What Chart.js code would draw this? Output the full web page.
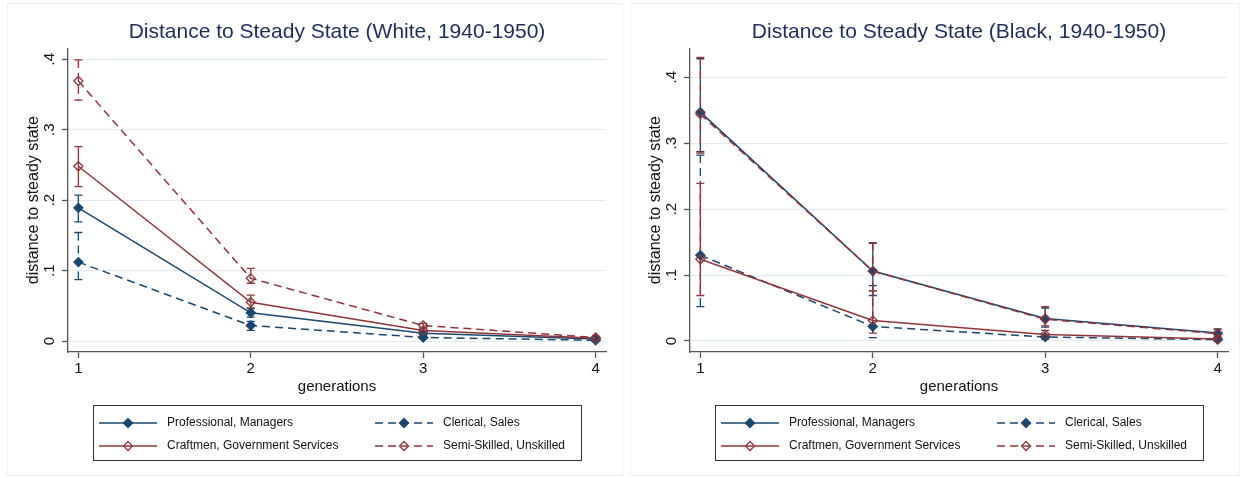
<!DOCTYPE html>
<html>
<head>
<meta charset="utf-8">
<title>Distance to Steady State</title>
<script src="https://cdn.jsdelivr.net/npm/chart.js@4.4.1/dist/chart.umd.min.js"></script>
<style>
  html, body { margin: 0; padding: 0; background: #fff; }
  .panel { position: absolute; top: 0; height: 478px; }
  #pWhite { left: 0; width: 622px; }
  #pBlack { left: 622px; width: 621px; }
  .frame { position: absolute; top: 3px; height: 471px; border: 1px solid #eef0f2; }
</style>
</head>
<body>
<div class="frame" style="left:7px;width:614px;"></div>
<div class="frame" style="left:630px;width:608px;"></div>
<div class="panel" id="pWhite"><canvas id="chartWhite" width="622" height="478"></canvas></div>
<div class="panel" id="pBlack"><canvas id="chartBlack" width="621" height="478"></canvas></div>
<script>
const generations = [1, 2, 3, 4];
const yTickValues = [0, 0.1, 0.2, 0.3, 0.4];
const yTickLabels = ['0', '.1', '.2', '.3', '.4'];
const groupNames = ['Professional, Managers', 'Clerical, Sales', 'Craftmen, Government Services', 'Semi-Skilled, Unskilled'];

// White, 1940-1950 (point estimate, lower and upper bound)
const whiteProf = [0.189, 0.040, 0.011, 0.003];
const whiteProfLo = [0.169, 0.034, 0.009, 0.002];
const whiteProfHi = [0.207, 0.046, 0.013, 0.004];
const whiteCler = [0.112, 0.022, 0.005, 0.001];
const whiteClerLo = [0.087, 0.015, 0.003, 0.000];
const whiteClerHi = [0.154, 0.028, 0.007, 0.002];
const whiteCraft = [0.248, 0.055, 0.015, 0.004];
const whiteCraftLo = [0.219, 0.047, 0.012, 0.003];
const whiteCraftHi = [0.276, 0.065, 0.018, 0.005];
const whiteSemi = [0.369, 0.089, 0.022, 0.005];
const whiteSemiLo = [0.342, 0.082, 0.019, 0.004];
const whiteSemiHi = [0.399, 0.103, 0.025, 0.007];

// Black, 1940-1950
const blackProf = [0.347, 0.106, 0.034, 0.012];
const blackProfLo = [0.287, 0.069, 0.021, 0.006];
const blackProfHi = [0.428, 0.148, 0.050, 0.018];
const blackCler = [0.130, 0.022, 0.006, 0.002];
const blackClerLo = [0.052, 0.005, 0.003, 0.000];
const blackClerHi = [0.282, 0.084, 0.010, 0.004];
const blackCraft = [0.124, 0.031, 0.010, 0.003];
const blackCraftLo = [0.069, 0.012, 0.005, 0.001];
const blackCraftHi = [0.239, 0.076, 0.016, 0.006];
const blackSemi = [0.344, 0.106, 0.033, 0.011];
const blackSemiLo = [0.285, 0.076, 0.023, 0.005];
const blackSemiHi = [0.430, 0.149, 0.052, 0.018];

const NAVY = '#1a476f';
const MAROON = '#90353b';
const FONT = '"Liberation Sans", Arial, Helvetica, sans-serif';
const seriesStyle = [
  { color: NAVY, dash: [], fill: NAVY, order: 3 },
  { color: NAVY, dash: [8, 5], fill: NAVY, order: 2 },
  { color: MAROON, dash: [], fill: 'rgba(0,0,0,0)', order: 1 },
  { color: MAROON, dash: [8, 5], fill: 'rgba(0,0,0,0)', order: 0 }
];

Chart.defaults.font.family = FONT;
Chart.defaults.color = '#222';

function drawDiamond(ctx, x, y, r, st) {
  ctx.beginPath();
  ctx.moveTo(x, y - r);
  ctx.lineTo(x + r, y);
  ctx.lineTo(x, y + r);
  ctx.lineTo(x - r, y);
  ctx.closePath();
  ctx.fillStyle = st.fill;
  ctx.fill();
  ctx.lineWidth = 1.3;
  ctx.strokeStyle = st.color;
  ctx.stroke();
}

// confidence intervals, drawn under the lines
const errorBars = {
  id: 'errorBars',
  beforeDatasetsDraw(chart) {
    const ctx = chart.ctx;
    const yScale = chart.scales.y;
    chart.data.datasets.forEach((ds, i) => {
      const meta = chart.getDatasetMeta(i);
      ctx.save();
      ctx.strokeStyle = ds.borderColor;
      ctx.lineWidth = 1.3;
      meta.data.forEach((pt, j) => {
        const top = yScale.getPixelForValue(ds.errHi[j]);
        const bot = yScale.getPixelForValue(ds.errLo[j]);
        ctx.setLineDash(ds.borderDash);
        ctx.beginPath();
        ctx.moveTo(pt.x, top);
        ctx.lineTo(pt.x, bot);
        ctx.stroke();
        ctx.setLineDash([]);
        ctx.beginPath();
        ctx.moveTo(pt.x - 4, top); ctx.lineTo(pt.x + 4, top);
        ctx.moveTo(pt.x - 4, bot); ctx.lineTo(pt.x + 4, bot);
        ctx.stroke();
      });
      ctx.restore();
    });
  }
};

// boxed two-column legend under the plot
const stataLegend = {
  id: 'stataLegend',
  afterDraw(chart) {
    const ctx = chart.ctx;
    const area = chart.chartArea;
    const left = area.left + 25;
    const right = area.right - 25;
    const top = chart.scales.x.bottom + 7;
    const bottom = top + 55;
    ctx.save();
    ctx.strokeStyle = '#333';
    ctx.lineWidth = 1;
    ctx.strokeRect(Math.round(left) + 0.5, Math.round(top) + 0.5, Math.round(right - left), Math.round(bottom - top));
    ctx.font = '12px ' + FONT;
    ctx.textBaseline = 'middle';
    chart.data.datasets.forEach((ds, i) => {
      const st = seriesStyle[i];
      const col = i % 2;
      const row = Math.floor(i / 2);
      const x0 = left + 6 + col * 276;
      const yy = top + 18 + row * 23;
      ctx.strokeStyle = st.color;
      ctx.lineWidth = 1.5;
      ctx.setLineDash(st.dash);
      ctx.beginPath();
      ctx.moveTo(x0, yy);
      ctx.lineTo(x0 + 58, yy);
      ctx.stroke();
      ctx.setLineDash([]);
      drawDiamond(ctx, x0 + 29, yy, 4.5, st);
      ctx.fillStyle = '#111';
      ctx.fillText(ds.label, x0 + 68, yy);
    });
    ctx.restore();
  }
};

function makeDatasets(series) {
  return series.map((s, i) => ({
    label: groupNames[i],
    data: generations.map((g, j) => ({ x: g, y: s.vals[j] })),
    errLo: s.lo,
    errHi: s.hi,
    borderColor: seriesStyle[i].color,
    borderDash: seriesStyle[i].dash,
    borderWidth: 1.5,
    tension: 0,
    pointStyle: 'rectRot',
    pointRadius: 4.5,
    pointBorderWidth: 1.3,
    pointBorderColor: seriesStyle[i].color,
    pointBackgroundColor: seriesStyle[i].fill,
    order: seriesStyle[i].order
  }));
}

function makeChart(canvasId, title, series, yMin, yMax, padRight) {
  return new Chart(document.getElementById(canvasId), {
    type: 'line',
    data: { datasets: makeDatasets(series) },
    plugins: [errorBars, stataLegend],
    options: {
      responsive: false,
      animation: false,
      layout: { padding: { left: 20, right: padRight, top: 0, bottom: 80 } },
      plugins: {
        legend: { display: false },
        tooltip: { enabled: false },
        title: {
          display: true,
          fullSize: false,
          text: title,
          color: '#1c2d5a',
          font: { size: 21, weight: 'normal', family: FONT },
          padding: { top: 20, bottom: 3 }
        }
      },
      scales: {
        x: {
          type: 'linear',
          min: 0.94,
          max: 4.06,
          afterBuildTicks: axis => { axis.ticks = generations.map(v => ({ value: v })); },
          afterFit: axis => { axis.height = 46; },
          ticks: { font: { size: 15 }, color: '#111', padding: 2, callback: v => String(v) },
          grid: { drawOnChartArea: false, drawTicks: true, tickLength: 6, tickColor: '#555', tickWidth: 1.3 },
          border: { color: '#555', width: 1.3 },
          title: { display: true, text: 'generations', font: { size: 15 }, color: '#111', padding: { top: 0, bottom: 2 } }
        },
        y: {
          min: yMin,
          max: yMax,
          afterBuildTicks: axis => { axis.ticks = yTickValues.map(v => ({ value: v })); },
          afterFit: axis => { axis.width = 48; },
          ticks: {
            font: { size: 15 },
            color: '#111',
            minRotation: 90,
            maxRotation: 90,
            crossAlign: 'center',
            padding: 6,
            callback: (v, idx) => yTickLabels[idx]
          },
          grid: { color: '#e1ebf1', lineWidth: 1, tickLength: 6, tickColor: '#555', tickWidth: 1.3 },
          border: { color: '#555', width: 1.3 },
          title: { display: true, text: 'distance to steady state', font: { size: 16 }, color: '#111', padding: { top: 4, bottom: 0 } }
        }
      }
    }
  });
}

makeChart('chartWhite', 'Distance to Steady State (White, 1940-1950)', [
  { vals: whiteProf, lo: whiteProfLo, hi: whiteProfHi },
  { vals: whiteCler, lo: whiteClerLo, hi: whiteClerHi },
  { vals: whiteCraft, lo: whiteCraftLo, hi: whiteCraftHi },
  { vals: whiteSemi, lo: whiteSemiLo, hi: whiteSemiHi }
], -0.0156, 0.4156, 16);

makeChart('chartBlack', 'Distance to Steady State (Black, 1940-1950)', [
  { vals: blackProf, lo: blackProfLo, hi: blackProfHi },
  { vals: blackCler, lo: blackClerLo, hi: blackClerHi },
  { vals: blackCraft, lo: blackCraftLo, hi: blackCraftHi },
  { vals: blackSemi, lo: blackSemiLo, hi: blackSemiHi }
], -0.0167, 0.444, 15);
</script>
</body>
</html>
